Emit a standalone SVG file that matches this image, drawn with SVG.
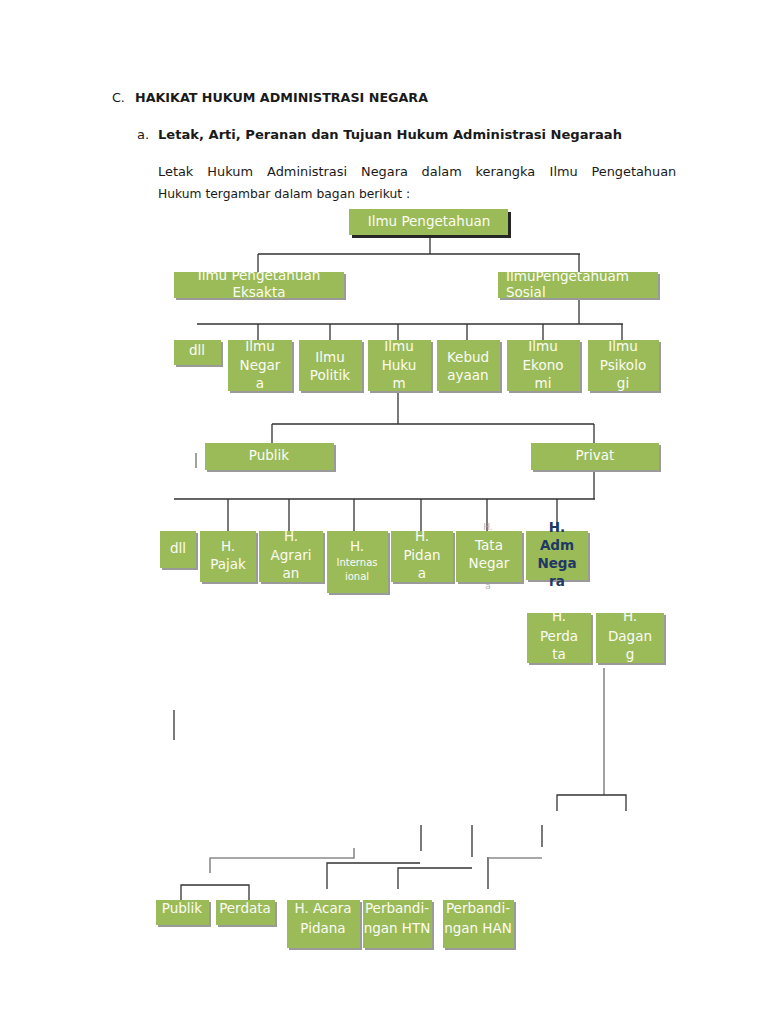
<svg xmlns="http://www.w3.org/2000/svg" width="768" height="1024" viewBox="0 0 768 1024">
<style>
.hd{font-family:"DejaVu Sans","Verdana",sans-serif;fill:#1a1a1a}
.b{fill:#9bbb59}
.sh{fill:#9a9a9a}
.shd{fill:#262626}
.t{font-family:"DejaVu Sans","Verdana",sans-serif;font-size:13.5px;fill:#fbfbf5;text-anchor:middle}
.ts{text-anchor:start}
.sm{font-size:10px}
.fd{fill:#b4b4b4;font-size:9px}
.adm{fill:#1f3864;font-weight:bold}
.ln{fill:none;stroke:#333;stroke-width:1.3}
.lg{fill:none;stroke:#8a8a8a;stroke-width:1.6}
</style>
<defs>
<clipPath id="c2"><rect x="0" y="272" width="768" height="60"/></clipPath>
<clipPath id="c3"><rect x="0" y="340" width="768" height="80"/></clipPath>
<clipPath id="c5"><rect x="0" y="531" width="450" height="80"/></clipPath>
<clipPath id="c6"><rect x="0" y="613" width="768" height="80"/></clipPath>
</defs>
<rect width="768" height="1024" fill="#fff"/>
<g id="header">
<text class="hd" x="112" y="102" font-size="12.7">C.</text>
<text class="hd" x="135" y="102" font-size="12.7" font-weight="bold" textLength="293" lengthAdjust="spacingAndGlyphs">HAKIKAT HUKUM ADMINISTRASI NEGARA</text>
<text class="hd" x="137" y="139" font-size="13">a.</text>
<text class="hd" x="158" y="139" font-size="13" font-weight="bold" textLength="464" lengthAdjust="spacingAndGlyphs">Letak, Arti, Peranan dan Tujuan Hukum Administrasi Negaraah</text>
<text class="hd" y="176" font-size="12.9"><tspan x="158">Letak</tspan><tspan x="207.3">Hukum</tspan><tspan x="267.1">Administrasi</tspan><tspan x="361">Negara</tspan><tspan x="421.6">dalam</tspan><tspan x="475.5">kerangka</tspan><tspan x="549.6">Ilmu</tspan><tspan x="591.4">Pengetahuan</tspan></text>
<text class="hd" x="158" y="198" font-size="12.3">Hukum tergambar dalam bagan berikut :</text>
</g>
<g id="connectors">
<path class="ln" d="M430 235V254M258 254H580M258 254V272M579 254V272"/>
<path class="ln" d="M579 298V324M197 324H623M258 324V340M330 324V340M398 324V340M467 324V340M543 324V340M622 324V340"/>
<path class="ln" d="M398 391V424M272 424H594M272 424V443M594 424V443"/>
<path class="lg" d="M196 453V468"/>
<path class="ln" d="M594 470V499M174 499H595M228 499V531M289 499V531M354 499V531M421 499V531M487 499V531M557 499V531"/>
<path class="ln" d="M174 710V740"/>
<path class="lg" d="M604 668V795" stroke="#999" stroke-width="2"/>
<path class="ln" d="M557 811V795H626V811"/>
<path class="ln" d="M421 825V851M472 825V857M542 825V847"/>
<path class="lg" d="M210 873V858H354V848"/>
<path class="ln" d="M327 889V863H420"/>
<path class="ln" d="M398 889V868H472"/>
<path class="ln" d="M488 889V857"/>
<path class="lg" d="M488 858H542"/>
<path class="ln" d="M181 900V885H249V900"/>
</g>
<g id="n1"><rect class="shd" x="352" y="212" width="159" height="26"/><rect class="b" x="349" y="209" width="159" height="26"/><text class="t" x="429" y="226">Ilmu Pengetahuan</text></g>
<g id="n2"><rect class="sh" x="176" y="274" width="170" height="26"/><rect class="b" x="174" y="272" width="170" height="26"/><g clip-path="url(#c2)"><text class="t" x="259" y="280">Ilmu Pengetahuan</text><text class="t" x="259" y="297">Eksakta</text></g></g>
<g id="n3"><rect class="sh" x="500" y="274" width="160" height="26"/><rect class="b" x="498" y="272" width="160" height="26"/><g clip-path="url(#c2)"><text class="t ts" x="506" y="281">IlmuPengetahuam</text><text class="t ts" x="506" y="297">Sosial</text></g></g>
<g id="n4"><rect class="sh" x="176" y="342" width="47" height="25"/><rect class="b" x="174" y="340" width="47" height="25"/><text class="t" x="197" y="355">dll</text></g>
<g id="n5"><rect class="sh" x="230" y="342" width="64" height="51"/><rect class="b" x="228" y="340" width="64" height="51"/><g clip-path="url(#c3)"><text class="t" x="260" y="351">Ilmu</text><text class="t" x="260" y="370">Negar</text><text class="t" x="260" y="388">a</text></g></g>
<g id="n6"><rect class="sh" x="301" y="342" width="63" height="51"/><rect class="b" x="299" y="340" width="63" height="51"/><text class="t" x="330" y="362">Ilmu</text><text class="t" x="330" y="380">Politik</text></g>
<g id="n7"><rect class="sh" x="370" y="342" width="63" height="51"/><rect class="b" x="368" y="340" width="63" height="51"/><g clip-path="url(#c3)"><text class="t" x="399" y="351">Ilmu</text><text class="t" x="399" y="370">Huku</text><text class="t" x="399" y="388">m</text></g></g>
<g id="n8"><rect class="sh" x="439" y="342" width="63" height="51"/><rect class="b" x="437" y="340" width="63" height="51"/><text class="t" x="468" y="362">Kebud</text><text class="t" x="468" y="380">ayaan</text></g>
<g id="n9"><rect class="sh" x="509" y="342" width="73" height="51"/><rect class="b" x="507" y="340" width="73" height="51"/><g clip-path="url(#c3)"><text class="t" x="543" y="351">Ilmu</text><text class="t" x="543" y="370">Ekono</text><text class="t" x="543" y="388">mi</text></g></g>
<g id="n10"><rect class="sh" x="590" y="342" width="71" height="51"/><rect class="b" x="588" y="340" width="71" height="51"/><g clip-path="url(#c3)"><text class="t" x="623" y="351">Ilmu</text><text class="t" x="623" y="370">Psikolo</text><text class="t" x="623" y="388">gi</text></g></g>
<g id="n11"><rect class="sh" x="207" y="445" width="129" height="27"/><rect class="b" x="205" y="443" width="129" height="27"/><text class="t" x="269" y="460">Publik</text></g>
<g id="n12"><rect class="sh" x="533" y="445" width="128" height="27"/><rect class="b" x="531" y="443" width="128" height="27"/><text class="t" x="595" y="460">Privat</text></g>
<g id="n13"><rect class="sh" x="162" y="533" width="36" height="37"/><rect class="b" x="160" y="531" width="36" height="37"/><text class="t" x="178" y="553">dll</text></g>
<g id="n14"><rect class="sh" x="202" y="533" width="56" height="51"/><rect class="b" x="200" y="531" width="56" height="51"/><text class="t" x="228" y="551">H.</text><text class="t" x="228" y="569">Pajak</text></g>
<g id="n15"><rect class="sh" x="261" y="533" width="64" height="51"/><rect class="b" x="259" y="531" width="64" height="51"/><g clip-path="url(#c5)"><text class="t" x="291" y="541">H.</text><text class="t" x="291" y="560">Agrari</text><text class="t" x="291" y="578">an</text></g></g>
<g id="n16"><rect class="sh" x="329" y="533" width="61" height="62"/><rect class="b" x="327" y="531" width="61" height="62"/><text class="t" x="357" y="551">H.</text><text class="t sm" x="357" y="566">Internas</text><text class="t sm" x="357" y="580">ional</text></g>
<g id="n17"><rect class="sh" x="393" y="533" width="62" height="51"/><rect class="b" x="391" y="531" width="62" height="51"/><g clip-path="url(#c5)"><text class="t" x="422" y="541">H.</text><text class="t" x="422" y="560">Pidan</text><text class="t" x="422" y="578">a</text></g></g>
<g id="n18"><rect class="sh" x="458" y="533" width="66" height="51"/><rect class="b" x="456" y="531" width="66" height="51"/><text class="t fd" x="488" y="530">H.</text><text class="t" x="489" y="550">Tata</text><text class="t" x="489" y="568">Negar</text><text class="t fd" x="488" y="589">a</text></g>
<g id="n19"><rect class="sh" x="528" y="533" width="62" height="49"/><rect class="b" x="526" y="531" width="62" height="49"/><text class="t adm" x="557" y="532">H.</text><text class="t adm" x="557" y="550">Adm</text><text class="t adm" x="557" y="568">Nega</text><text class="t adm" x="557" y="586">ra</text></g>
<g id="n20"><rect class="sh" x="529" y="615" width="64" height="50"/><rect class="b" x="527" y="613" width="64" height="50"/><g clip-path="url(#c6)"><text class="t" x="559" y="621">H.</text><text class="t" x="559" y="641">Perda</text><text class="t" x="559" y="659">ta</text></g></g>
<g id="n21"><rect class="sh" x="598" y="615" width="68" height="50"/><rect class="b" x="596" y="613" width="68" height="50"/><g clip-path="url(#c6)"><text class="t" x="630" y="621">H.</text><text class="t" x="630" y="641">Dagan</text><text class="t" x="630" y="659">g</text></g></g>
<g id="n22"><rect class="sh" x="158" y="902" width="53" height="25"/><rect class="b" x="156" y="900" width="53" height="25"/><text class="t" x="182" y="913">Publik</text></g>
<g id="n23"><rect class="sh" x="218" y="902" width="59" height="25"/><rect class="b" x="216" y="900" width="59" height="25"/><text class="t" x="245" y="913">Perdata</text></g>
<g id="n24"><rect class="sh" x="289" y="902" width="73" height="48"/><rect class="b" x="287" y="900" width="73" height="48"/><text class="t" x="323" y="913">H. Acara</text><text class="t" x="323" y="933">Pidana</text></g>
<g id="n25"><rect class="sh" x="365" y="902" width="69" height="48"/><rect class="b" x="363" y="900" width="69" height="48"/><text class="t" x="397" y="913">Perbandi-</text><text class="t" x="397" y="933">ngan HTN</text></g>
<g id="n26"><rect class="sh" x="445" y="902" width="71" height="48"/><rect class="b" x="443" y="900" width="71" height="48"/><text class="t" x="478" y="913">Perbandi-</text><text class="t" x="478" y="933">ngan HAN</text></g>
</svg>
